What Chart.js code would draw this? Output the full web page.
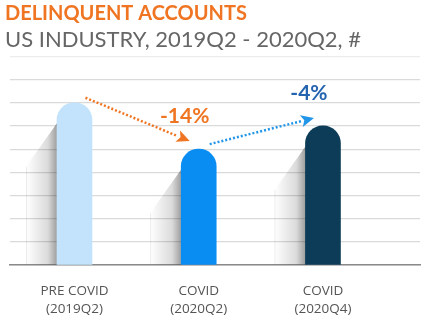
<!DOCTYPE html>
<html>
<head>
<meta charset="utf-8">
<script src="https://cdn.jsdelivr.net/npm/chart.js@4.4.1/dist/chart.umd.min.js"></script>
<style>
  html, body { margin: 0; padding: 0; background: #ffffff; }
  #wrap { width: 427px; height: 322px; position: relative; }
</style>
</head>
<body>
<div id="wrap"><canvas id="c"></canvas></div>
<script>
// ---- data ----
const categories = [['PRE COVID', '(2019Q2)'], ['COVID', '(2020Q2)'], ['COVID', '(2020Q4)']];
const positions = [0, 1, 2];
const values = [7, 5, 6];
const changes = ['-14%', '-4%'];
const barColors = ['#c2e3fb', '#0a8df2', '#0c3c58'];
const arrowColors = ['#f07522', '#2196e8'];
const changeTextColors = ['#f07522', '#2463b0'];
const yTickValues = [0, 1, 2, 3, 4, 5, 6, 7, 8, 9];

const shadowPlugin = {
  id: 'barShadow',
  beforeDatasetsDraw(chart) {
    const ctx = chart.ctx;
    const meta = chart.getDatasetMeta(0);
    ctx.save();
    meta.data.forEach(bar => {
      const left = bar.x - bar.width / 2;
      const topY = bar.y + 19;
      const cornerX = left - 31;
      const cornerY = topY + 45;
      const g = ctx.createLinearGradient(left, 0, cornerX, 0);
      g.addColorStop(0, 'rgba(0,0,0,0.38)');
      g.addColorStop(0.3, 'rgba(0,0,0,0.14)');
      g.addColorStop(1, 'rgba(0,0,0,0.0)');
      ctx.beginPath();
      ctx.moveTo(left + 1, topY);
      ctx.lineTo(cornerX, cornerY);
      ctx.lineTo(cornerX, bar.base);
      ctx.lineTo(left + 1, bar.base);
      ctx.closePath();
      ctx.fillStyle = g;
      ctx.fill();
      ctx.strokeStyle = 'rgba(0,0,0,0.08)';
      ctx.lineWidth = 1;
      ctx.beginPath();
      ctx.moveTo(cornerX + 0.5, cornerY);
      ctx.lineTo(cornerX + 0.5, bar.base);
      ctx.stroke();
    });
    ctx.restore();
  }
};

const arrowPlugin = {
  id: 'changeArrows',
  afterDatasetsDraw(chart) {
    const ctx = chart.ctx;
    const bars = chart.getDatasetMeta(0).data;
    ctx.save();
    changes.forEach((txt, i) => {
      const a = bars[i], b = bars[i + 1];
      const sx = a.x + 11, sy = a.y - 5;
      const tx = b.x - 9, ty = b.y - 8;
      const ang = Math.atan2(ty - sy, tx - sx);
      const headLen = 13, headW = 6;
      const bx = tx - headLen * Math.cos(ang), by = ty - headLen * Math.sin(ang);
      ctx.strokeStyle = arrowColors[i];
      ctx.lineWidth = 2.5;
      ctx.setLineDash([2, 2]);
      ctx.beginPath();
      ctx.moveTo(sx, sy);
      ctx.lineTo(bx, by);
      ctx.stroke();
      ctx.setLineDash([]);
      ctx.fillStyle = arrowColors[i];
      ctx.beginPath();
      ctx.moveTo(tx, ty);
      ctx.lineTo(bx + headW * Math.sin(ang), by - headW * Math.cos(ang));
      ctx.lineTo(bx + 3 * Math.cos(ang), by + 3 * Math.sin(ang));
      ctx.lineTo(bx - headW * Math.sin(ang), by + headW * Math.cos(ang));
      ctx.closePath();
      ctx.fill();
      ctx.fillStyle = changeTextColors[i];
      ctx.font = 'bold 21px Lato';
      ctx.textAlign = 'center';
      ctx.textBaseline = 'middle';
      ctx.fillText(txt, b.x - 14, b.y - 33);
    });
    ctx.restore();
  }
};

new Chart(document.getElementById('c'), {
  type: 'bar',
  data: {
    datasets: [{
      data: positions.map((p, i) => ({ x: p, y: values[i] })),
      backgroundColor: barColors,
      barThickness: 35,
      borderRadius: { topLeft: 18, topRight: 18, bottomLeft: 0, bottomRight: 0 },
      borderSkipped: 'bottom'
    }]
  },
  options: {
    responsive: true,
    maintainAspectRatio: false,
    animation: false,
    layout: { padding: { left: 5, right: 7, top: 0, bottom: 0 } },
    plugins: {
      legend: { display: false },
      tooltip: { enabled: false },
      title: {
        display: true,
        text: 'DELINQUENT ACCOUNTS',
        align: 'start',
        color: '#f07522',
        font: { family: 'Lato', size: 20, weight: 'bold' },
        padding: { top: 2, bottom: 1 }
      },
      subtitle: {
        display: true,
        text: 'US INDUSTRY, 2019Q2 - 2020Q2, #',
        align: 'start',
        color: '#666666',
        font: { family: 'Lato', size: 22, weight: 'normal' },
        padding: { top: 0, bottom: 3 }
      }
    },
    scales: {
      x: {
        type: 'linear',
        offset: false,
        min: -0.519,
        max: 2.781,
        afterBuildTicks: axis => { axis.ticks = positions.map(v => ({ value: v })); },
        afterFit: axis => { axis.height = 57; },
        ticks: {
          callback: (v) => categories[positions.indexOf(v)] || '',
          color: '#555555',
          font: { family: 'Open Sans', size: 13.5, lineHeight: 1.35 },
          padding: 17,
          maxRotation: 0,
          autoSkip: false
        },
        grid: { display: false, drawTicks: false, offset: false },
        border: { display: true, color: '#8a8a8a', width: 1.5 }
      },
      y: {
        min: 0,
        max: 9,
        afterBuildTicks: axis => { axis.ticks = yTickValues.map(v => ({ value: v })); },
        afterFit: axis => { axis.width = 5; },
        ticks: { display: false },
        grid: {
          drawTicks: false,
          color: ctx => ctx.tick && ctx.tick.value === 9 ? '#ececec' : '#dadada',
          lineWidth: 1.2
        },
        border: { display: false }
      }
    }
  },
  plugins: [shadowPlugin, arrowPlugin]
});
</script>
</body>
</html>
